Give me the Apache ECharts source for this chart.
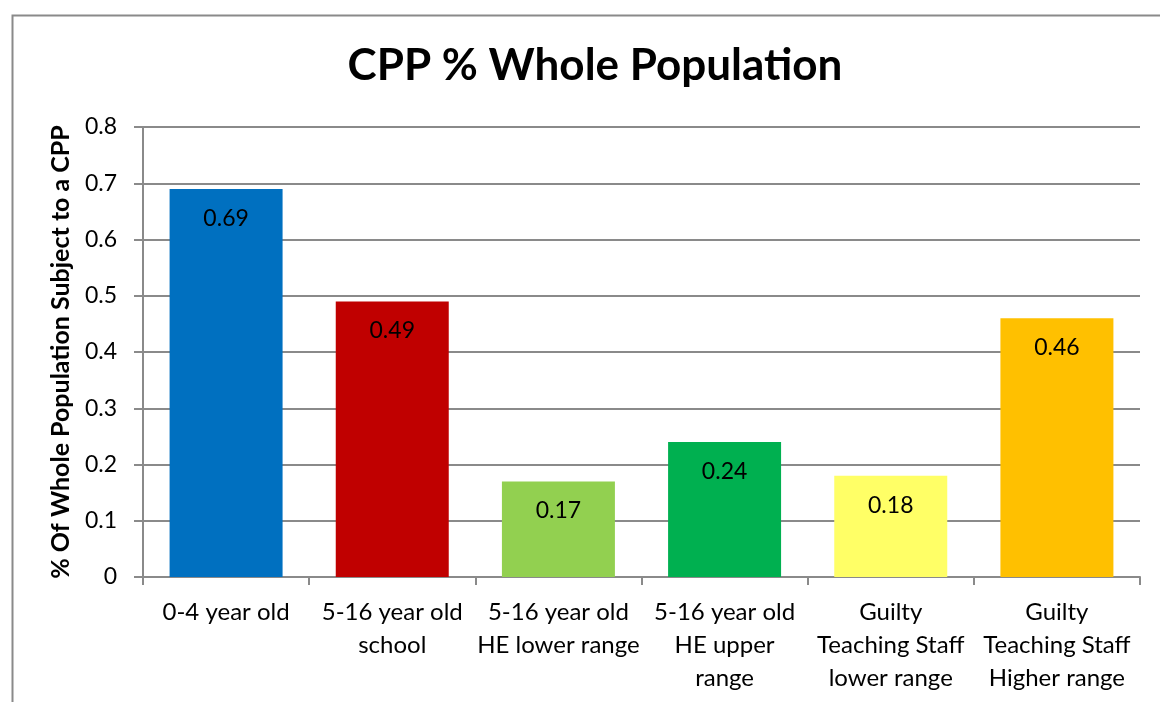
<!DOCTYPE html>
<html>
<head>
<meta charset="utf-8">
<script src="https://cdn.jsdelivr.net/npm/echarts@6/dist/echarts.min.js"></script>
<style>html,body{margin:0;padding:0;background:#fff}#c{width:1160px;height:702px}</style>
</head>
<body>
<div id="c"></div>
<script>
const categories = [
  "0-4 year old",
  "5-16 year old\nschool",
  "5-16 year old\nHE lower range",
  "5-16 year old\nHE upper\nrange",
  "Guilty\nTeaching Staff\nlower range",
  "Guilty\nTeaching Staff\nHigher range"
];
const values = [0.69, 0.49, 0.17, 0.24, 0.18, 0.46];
const barColors = ["#0070C0", "#C00000", "#92D050", "#00B050", "#FFFF66", "#FFC000"];
const yTicks = [0, 0.1, 0.2, 0.3, 0.4, 0.5, 0.6, 0.7, 0.8];

const FONT = "Lato, 'Open Sans', sans-serif";
const chart = echarts.init(document.getElementById('c'), null, {renderer: 'canvas'});
chart.setOption({
  animation: false,
  backgroundColor: '#fff',
  graphic: [{
    type: 'rect', left: 10, top: 13, shape: {x: 0, y: 0, width: 1300, height: 900},
    style: {fill: 'none', stroke: '#8a8a8a', lineWidth: 2}, silent: true, z: -1
  }],
  title: {
    text: 'CPP % Whole Population', left: 590, top: 39, textAlign: 'center',
    textStyle: {fontFamily: FONT, fontWeight: 'bold', fontSize: 44, color: '#000'}
  },
  grid: {left: 143, top: 127, right: 20, bottom: 125, containLabel: false},
  xAxis: {
    type: 'category', data: categories,
    axisLine: {show: true, lineStyle: {color: '#8a8a8a', width: 2}},
    axisTick: {show: true, alignWithLabel: false, length: 8, lineStyle: {color: '#8a8a8a', width: 2}},
    axisLabel: {fontFamily: FONT, fontSize: 24, color: '#000', margin: 19, lineHeight: 33, interval: 0}
  },
  yAxis: {
    type: 'value', min: 0, max: 0.8, interval: 0.1,
    name: '% Of Whole Population Subject to a CPP', nameLocation: 'middle', nameGap: 70, nameRotate: 90,
    nameTextStyle: {fontFamily: FONT, fontWeight: 'bold', fontSize: 25, color: '#000'},
    axisLine: {show: true, lineStyle: {color: '#8a8a8a', width: 2}},
    axisTick: {show: true, length: 9, lineStyle: {color: '#8a8a8a', width: 2}},
    splitLine: {show: true, lineStyle: {color: '#8a8a8a', width: 2}},
    axisLabel: {fontFamily: FONT, fontSize: 23, color: '#000', margin: 26,
      formatter: v => { const t = yTicks.find(x => Math.abs(x - v) < 1e-9); return t === undefined ? '' : String(+t.toFixed(1)); }}
  },
  series: [{
    type: 'bar',
    data: values.map((v, i) => ({value: v, itemStyle: {color: barColors[i]}})),
    barWidth: '68%',
    label: {show: true, position: 'insideTop', distance: 18, fontFamily: FONT, fontSize: 23, color: '#000'}
  }]
});
</script>
</body>
</html>
